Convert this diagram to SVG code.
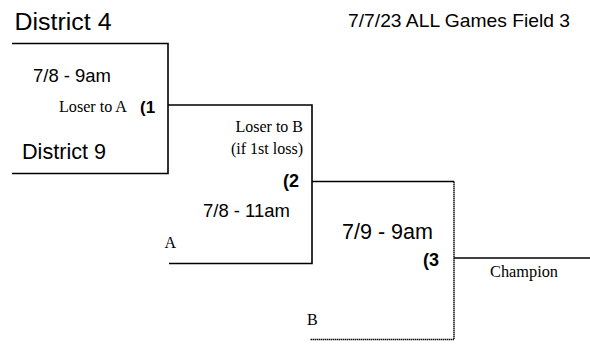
<svg xmlns="http://www.w3.org/2000/svg" width="590" height="347" viewBox="0 0 590 347">
<style>
.ln{fill:none;stroke:#000;stroke-width:1.6}
.dt{fill:none;stroke:#111;stroke-width:1.5;stroke-dasharray:1.5 0.5}
.a{font-family:"Liberation Sans",Arial,sans-serif;fill:#000}
.t{font-family:"Liberation Serif","Times New Roman",serif;font-size:16px;fill:#000}
.b{font-family:"Liberation Sans",Arial,sans-serif;font-weight:bold;fill:#000}
</style>
<rect width="590" height="347" fill="#fff"/>
<g id="connectors">
<path class="ln" d="M12 43.5H168V173.5H12"/>
<path class="ln" d="M168 105H312V263.5H169"/>
<path class="ln" d="M312 181.5H454"/>
<path class="dt" d="M454 181.5V339.5H310.5"/>
<path class="ln" d="M454 258H590"/>
</g>
<g id="title">
<text class="a" x="348" y="26.5" font-size="19" textLength="222" lengthAdjust="spacingAndGlyphs">7/7/23 ALL Games Field 3</text>
</g>
<g id="game1">
<text class="a" x="14.5" y="30" font-size="23" textLength="97" lengthAdjust="spacingAndGlyphs">District 4</text>
<text class="a" x="33" y="81.5" font-size="18.6" textLength="78" lengthAdjust="spacingAndGlyphs">7/8 - 9am</text>
<text class="t" x="59" y="112" textLength="68" lengthAdjust="spacingAndGlyphs">Loser to A</text>
<text class="b" x="140" y="112.5" font-size="17">(1</text>
<text class="a" x="22" y="159" font-size="22" textLength="84" lengthAdjust="spacingAndGlyphs">District 9</text>
</g>
<g id="game2">
<text class="t" x="303" y="131.5" text-anchor="end">Loser to B</text>
<text class="t" x="303" y="154" text-anchor="end">(if 1st loss)</text>
<text class="b" x="283" y="187" font-size="18">(2</text>
<text class="a" x="203" y="216.5" font-size="19" textLength="87" lengthAdjust="spacingAndGlyphs">7/8 - 11am</text>
<text class="t" x="164.5" y="247.5">A</text>
</g>
<g id="game3">
<text class="a" x="342" y="239" font-size="22" textLength="91" lengthAdjust="spacingAndGlyphs">7/9 - 9am</text>
<text class="b" x="423" y="265.5" font-size="18">(3</text>
<text class="t" x="490" y="276.5" textLength="68" lengthAdjust="spacingAndGlyphs">Champion</text>
<text class="t" x="307" y="324.5">B</text>
</g>
</svg>
